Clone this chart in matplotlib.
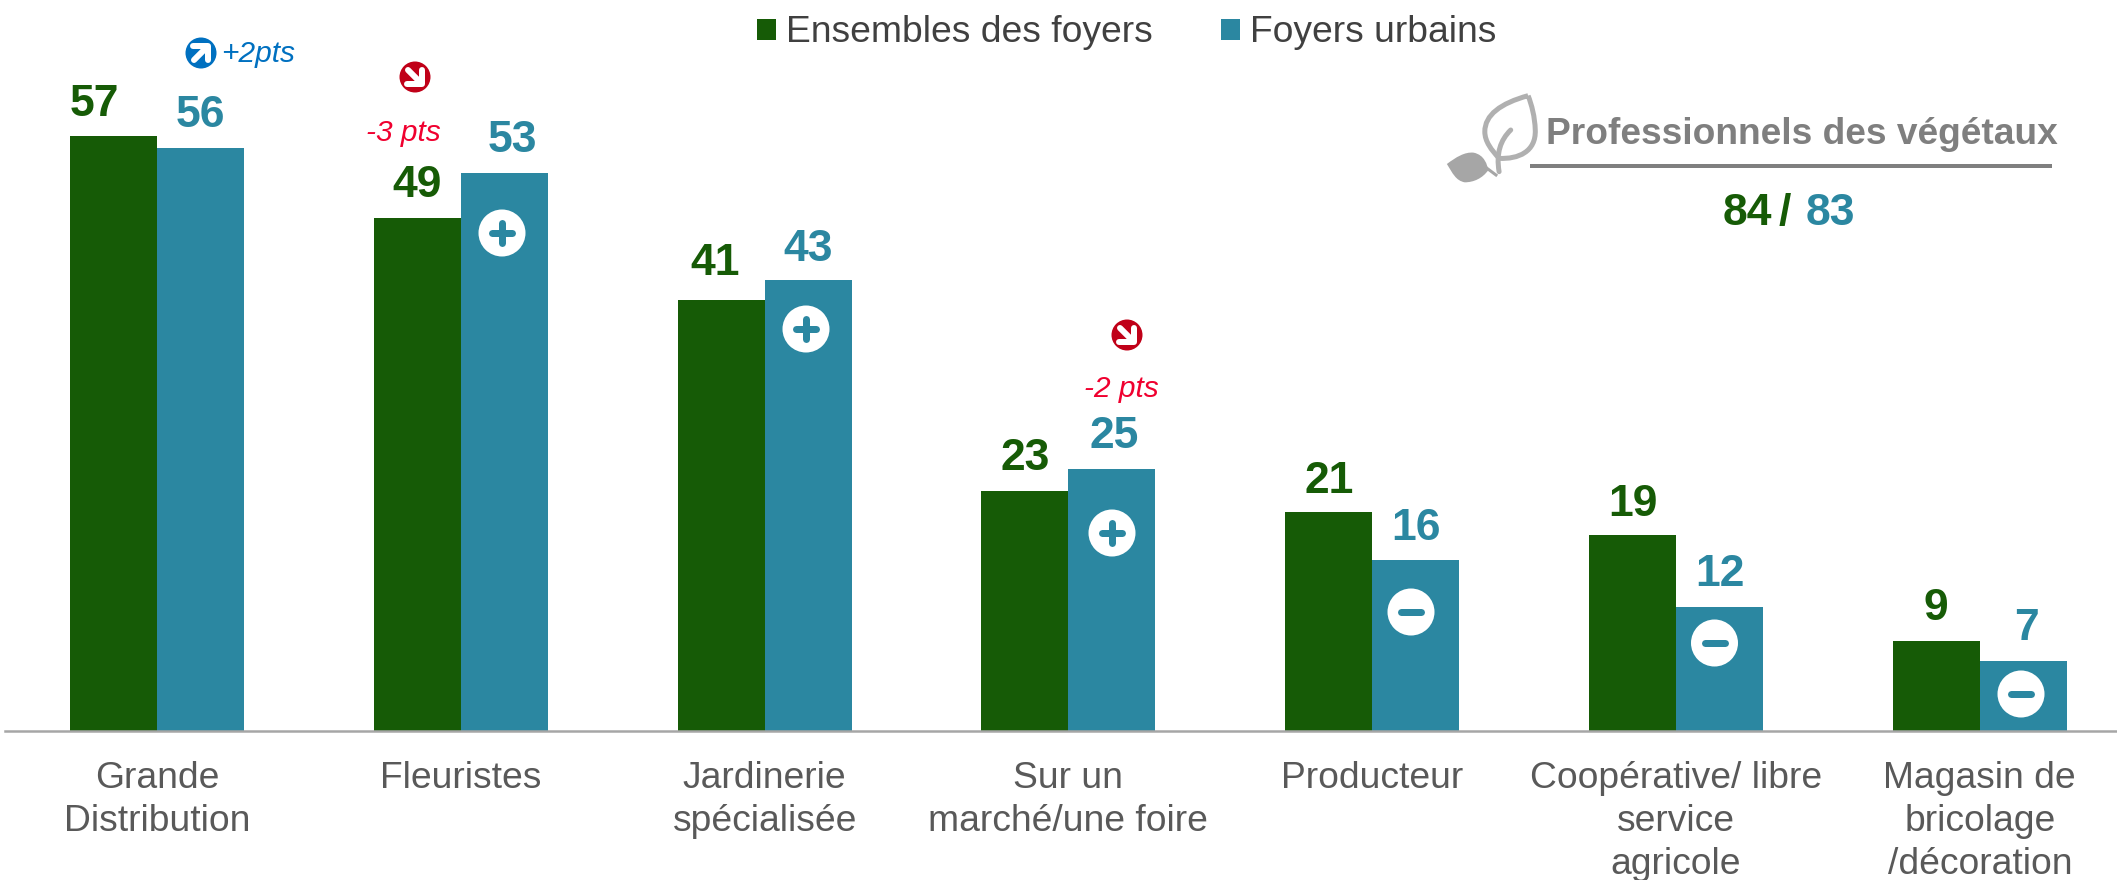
import matplotlib
matplotlib.use("Agg")
import matplotlib.pyplot as plt
from matplotlib.patches import Circle, PathPatch
from matplotlib.path import Path
import numpy as np

categories = ["Grande\nDistribution", "Fleuristes", "Jardinerie\nspécialisée", "Sur un\nmarché/une foire",
              "Producteur", "Coopérative/ libre\nservice\nagricole", "Magasin de\nbricolage\n/décoration"]
series_names = ["Ensembles des foyers", "Foyers urbains"]
ensemble = [56.9, 49.1, 41.2, 23.0, 21.0, 18.8, 8.6]
urbains = [55.8, 53.4, 43.2, 25.1, 16.4, 11.9, 6.7]

GREEN = "#165B06"
TEAL = "#2B87A1"
GREY_TXT = "#595959"
plt.rcParams["font.family"] = ["Liberation Sans", "DejaVu Sans"]

W, H = 2117, 880
fig = plt.figure(figsize=(W / 100, H / 100), dpi=100)
BASE = 731
PX_PER_UNIT = 10.45
ax = fig.add_axes([5 / W, (H - BASE) / H, (W - 5) / W, BASE / H])
GROUP = 303.8
ax.set_xlim((5 - 157) / GROUP, (W - 157) / GROUP)
ax.set_ylim(0, BASE / PX_PER_UNIT)

x = np.arange(len(categories))
bw = 87 / GROUP
b1 = ax.bar(x - bw / 2, ensemble, bw, color=GREEN, label=series_names[0])
b2 = ax.bar(x + bw / 2, urbains, bw, color=TEAL, label=series_names[1])

for s in ["top", "left", "right"]:
    ax.spines[s].set_visible(False)
ax.spines["bottom"].set_color("#A6A6A6")
ax.spines["bottom"].set_linewidth(1.8)
ax.set_yticks([])
ax.set_xticks(x)
ax.set_xticklabels(categories, fontsize=26.8, color=GREY_TXT, linespacing=1.3)
ax.tick_params(axis="x", length=0, pad=21.5)

nudge_g = [(-19, -1), (0, 0), (-6, 4), (0, 0), (0, -2), (0, -2), (0, 0)]
nudge_t = [(0, 0), (8, 0), (0, -2), (2, 0), (0, -1), (0, 0), (3, 0)]
for bars, vals, col, nud in ((b1, ensemble, GREEN, nudge_g), (b2, urbains, TEAL, nudge_t)):
    for r, v, (nx, ny) in zip(bars, vals, nud):
        ax.annotate(f"{v:.0f}", (r.get_x() + r.get_width() / 2, v), xytext=(nx * 0.72, (21 + ny) * 0.72),
                    textcoords="offset points", ha="center", va="baseline",
                    fontsize=32, fontweight="bold", color=col)

leg = fig.legend(handles=[b1, b2], loc="center left", bbox_to_anchor=(757 / W, 1 - 33 / H), ncol=2,
                 frameon=False, fontsize=26.8, labelcolor="#404040", handlelength=0.5, handleheight=0.5,
                 handletextpad=0.27, columnspacing=1.84, borderpad=0, borderaxespad=0)

# overlay in pixel coordinates for the annotations
ov = fig.add_axes([0, 0, 1, 1], zorder=5)
ov.set_xlim(0, W)
ov.set_ylim(H, 0)
ov.axis("off")
ov.patch.set_alpha(0)

PT = 0.72


def arrow_icon(cx, cy, color, up):
    ov.add_patch(Circle((cx, cy), 15.5, color=color, lw=0))
    sy = -1 if up else 1
    kw = dict(color="white", lw=6 * PT, solid_capstyle="round", solid_joinstyle="round")
    ov.plot([cx - 7, cx + 6], [cy - 7 * sy, cy + 6 * sy], **kw)
    ov.plot([cx - 8, cx + 7, cx + 7], [cy + 7 * sy, cy + 7 * sy, cy - 7 * sy], **kw)


def sign_icon(cx, cy, plus):
    ov.add_patch(Circle((cx, cy), 23.5, color="white", lw=0))
    kw = dict(color=TEAL, lw=7 * PT, solid_capstyle="round")
    ov.plot([cx - 10, cx + 10], [cy, cy], **kw)
    if plus:
        ov.plot([cx, cx], [cy - 10, cy + 10], **kw)


arrow_icon(201, 53, "#0070C0", True)
ov.text(221, 62, "+2pts", color="#0070C0", style="italic", fontsize=21.5, va="baseline")
arrow_icon(415, 77, "#C00018", False)
ov.text(366, 141, "-3 pts", color="#F0002F", style="italic", fontsize=21.5, va="baseline")
arrow_icon(1127, 335, "#C00018", False)
ov.text(1084, 397, "-2 pts", color="#F0002F", style="italic", fontsize=21.5, va="baseline")

sign_icon(502, 233, True)
sign_icon(806, 329, True)
sign_icon(1112, 533, True)
sign_icon(1411, 612, False)
sign_icon(1714.5, 643, False)
sign_icon(2021, 694, False)

# panel top right
ov.text(1546, 144, "Professionnels des végétaux", color="#7F7F7F", fontweight="bold", fontsize=26.7, va="baseline")
ov.plot([1530, 2052], [166, 166], color="#7F7F7F", lw=4 * PT, solid_capstyle="butt")
ov.text(1723, 225, "84", color=GREEN, fontweight="bold", fontsize=32, va="baseline")
ov.text(1785, 225, "/", color=GREEN, fontweight="bold", fontsize=32, va="baseline", ha="center")
ov.text(1806, 225, "83", color=TEAL, fontweight="bold", fontsize=32, va="baseline")


# leaf icon
def z(p):
    return (1400 + p[0] / 2.24, 70 + p[1] / 3)


C4 = Path.CURVE4
leaf_pts = [(287, 77), (225, 100), (190, 135), (190, 185), (190, 215), (205, 240), (222, 265),
            (265, 268), (305, 245), (303, 180), (302, 140), (295, 105), (287, 77)]
leaf = Path([z(p) for p in leaf_pts], [Path.MOVETO] + [C4] * 12)
ov.add_patch(PathPatch(leaf, fc="none", ec="#B0B0B0", lw=5 * PT))
stem = Path([z(p) for p in [(248, 180), (225, 210), (215, 250), (222, 305)]], [Path.MOVETO, C4, C4, C4])
ov.add_patch(PathPatch(stem, fc="none", ec="#B0B0B0", lw=5 * PT, capstyle="round"))
small_pts = [(105, 282), (125, 262), (145, 245), (165, 248), (190, 255), (195, 285), (198, 300),
             (185, 325), (165, 337), (145, 337), (125, 332), (118, 310), (105, 282)]
small = Path([z(p) for p in small_pts], [Path.MOVETO] + [C4] * 12)
ov.add_patch(PathPatch(small, fc="#A6A6A6", ec="none"))
ov.plot(*zip(z((195, 295)), z((215, 315))), color="#A6A6A6", lw=3 * PT)

fig.savefig("out.png", dpi=100, facecolor="white")
